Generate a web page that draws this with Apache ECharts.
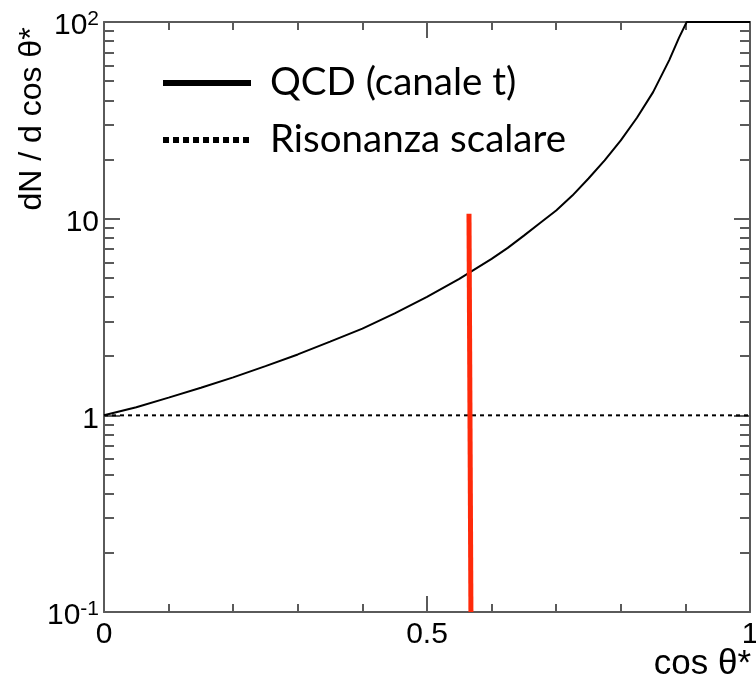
<!DOCTYPE html>
<html>
<head>
<meta charset="utf-8">
<script src="https://cdn.jsdelivr.net/npm/echarts@6/dist/echarts.min.js"></script>
<style>
html,body{margin:0;padding:0;background:#fff;}
#chart{width:756px;height:676px;}
</style>
</head>
<body>
<div id="chart"></div>
<script>
// Data
var cosTheta = [0, 0.05, 0.1, 0.15, 0.2, 0.25, 0.3, 0.35, 0.4, 0.45, 0.5, 0.55, 0.6, 0.625, 0.65, 0.675, 0.7, 0.725, 0.75, 0.775, 0.8, 0.825, 0.85, 0.875, 0.89, 0.902, 1.0];
var qcdValues = [1, 1.1, 1.23, 1.38, 1.56, 1.78, 2.04, 2.37, 2.76, 3.3, 4.0, 4.94, 6.25, 7.1, 8.2, 9.5, 11.0, 13.1, 16.0, 19.8, 25.0, 32.6, 44, 64, 83, 100, 100];
var scalarX = [0, 1];
var scalarValues = [1, 1];
var redX = [0.565, 0.568];
var redValues = [10.6, 0.1];
var xTickLabels = {0: '0', 0.5: '0.5', 1: '1'};
var yTickLabels = {0.1: '10{s|-1}', 1: '1', 10: '10', 100: '10{s|2}'};
var seriesNames = ['QCD (canale t)', 'Risonanza scalare'];
var xAxisTitle = 'cos θ*';
var yAxisTitle = 'dN / d cos θ*';

function zip(xs, ys) { return xs.map(function (x, i) { return [x, ys[i]]; }); }

var axisColor = '#5a5a5a';
var chart = echarts.init(document.getElementById('chart'));

var xCommon = {
  type: 'value', min: 0, max: 1, interval: 0.5,
  axisLine: { onZero: false, lineStyle: { color: axisColor, width: 2 } },
  axisTick: { inside: true, length: 16, lineStyle: { color: axisColor, width: 2 } },
  minorTick: { show: true, splitNumber: 5, length: 8, lineStyle: { color: axisColor, width: 2 } },
  splitLine: { show: false }, minorSplitLine: { show: false }
};
var yCommon = {
  type: 'log', logBase: 10, min: 0.1, max: 100,
  axisLine: { onZero: false, lineStyle: { color: axisColor, width: 2 } },
  axisTick: { inside: true, length: 16, lineStyle: { color: axisColor, width: 2 } },
  minorTick: { show: true, splitNumber: 9, length: 10, lineStyle: { color: axisColor, width: 2 } },
  splitLine: { show: false }, minorSplitLine: { show: false }
};

chart.setOption({
  animation: false,
  backgroundColor: '#ffffff',
  grid: { left: 104, right: 6, top: 22, bottom: 64, containLabel: false, outerBoundsMode: 'none' },
  legend: {
    orient: 'vertical', left: 160, top: 62, padding: 0,
    itemWidth: 88, itemHeight: 42, itemGap: 15,
    itemStyle: { opacity: 0 },
    data: [
      { name: seriesNames[0], lineStyle: { width: 6, type: 'solid', color: '#000' } },
      { name: seriesNames[1], lineStyle: { width: 6, type: [6, 4], color: '#000' } }
    ],
    textStyle: { fontFamily: 'Lato', fontSize: 38.5, lineHeight: 42, color: '#000', padding: [0, 0, 0, 14] }
  },
  xAxis: [
    Object.assign({}, xCommon, {
      position: 'bottom',
      axisLabel: {
        fontFamily: 'Liberation Sans', fontSize: 30, color: '#000', margin: 8,
        formatter: function (v) { return xTickLabels[v] !== undefined ? xTickLabels[v] : ''; }
      }
    }),
    Object.assign({}, xCommon, { position: 'top', axisLabel: { show: false } })
  ],
  yAxis: [
    Object.assign({}, yCommon, {
      position: 'left',
      axisLabel: {
        fontFamily: 'Liberation Sans', fontSize: 30, color: '#000', margin: 5, padding: [8, 0, 0, 0],
        formatter: function (v) {
          var k = +v.toPrecision(3);
          return yTickLabels[k] !== undefined ? yTickLabels[k] : '';
        },
        rich: { s: { fontFamily: 'Liberation Sans', fontSize: 21, color: '#000', verticalAlign: 'top', padding: [0, 0, 14, 0] } }
      }
    }),
    Object.assign({}, yCommon, { position: 'right', axisLabel: { show: false } })
  ],
  graphic: [
    {
      type: 'text', x: 32, y: 119, rotation: Math.PI / 2,
      style: { text: yAxisTitle, fontFamily: 'Liberation Sans', fontSize: 32, fill: '#000', align: 'center', verticalAlign: 'middle' }
    },
    {
      type: 'text', x: 751, y: 664,
      style: { text: xAxisTitle, fontFamily: 'Liberation Sans', fontSize: 35, fill: '#000', align: 'right', verticalAlign: 'middle' }
    }
  ],
  series: [
    {
      name: seriesNames[0], type: 'line', xAxisIndex: 0, yAxisIndex: 0,
      data: zip(cosTheta, qcdValues), symbol: 'none', smooth: false,
      itemStyle: { color: '#000' },
      lineStyle: { color: '#000', width: 2 }, z: 3
    },
    {
      name: seriesNames[1], type: 'line', xAxisIndex: 0, yAxisIndex: 0,
      data: zip(scalarX, scalarValues), symbol: 'none',
      itemStyle: { color: '#000' },
      lineStyle: { color: '#000', width: 2, type: [4, 4] }, z: 3
    },
    {
      name: 'cut', type: 'line', xAxisIndex: 0, yAxisIndex: 0,
      data: zip(redX, redValues), symbol: 'none',
      itemStyle: { color: '#ff2a0a' },
      lineStyle: { color: '#ff2a0a', width: 5 }, z: 5
    }
  ]
});
</script>
</body>
</html>
